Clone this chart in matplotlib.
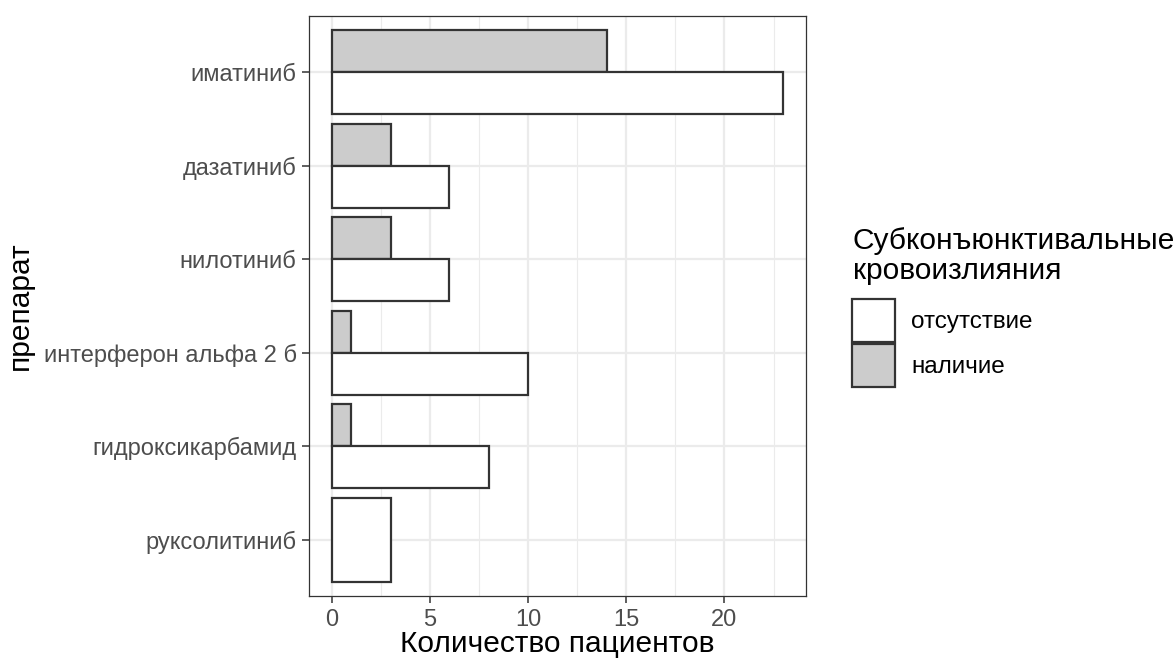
import matplotlib.pyplot as plt
from matplotlib.patches import Patch
import numpy as np

plt.rcParams['font.family'] = ['Liberation Sans', 'DejaVu Sans']

# Data
drugs = ["иматиниб", "дазатиниб", "нилотиниб", "интерферон альфа 2 б",
         "гидроксикарбамид", "руксолитиниб"]
absent = [23, 6, 6, 10, 8, 3]     # отсутствие
present = [14, 3, 3, 1, 1, 0]     # наличие
x_ticks = [0, 5, 10, 15, 20]

fill_absent = "white"
fill_present = "#CCCCCC"
edge = "#333333"

fig = plt.figure(figsize=(11.76, 6.62), dpi=100)
ax = fig.add_axes([309 / 1176, 1 - 596 / 662, (806 - 309) / 1176, (596 - 16) / 662])

ypos = np.arange(len(drugs))
full_w = 0.9
for y, a, p in zip(ypos, absent, present):
    if p > 0:
        ax.barh(y - full_w / 4, p, height=full_w / 2, color=fill_present,
                edgecolor=edge, linewidth=1.6, zorder=3)
        ax.barh(y + full_w / 4, a, height=full_w / 2, color=fill_absent,
                edgecolor=edge, linewidth=1.6, zorder=3)
    else:
        # only one group present -> bar takes the full dodge width
        ax.barh(y, a, height=full_w, color=fill_absent,
                edgecolor=edge, linewidth=1.6, zorder=3)

ax.set_xlim(-1.15, 24.15)
ax.set_ylim(len(drugs) - 1 + 0.6, -0.6)
ax.set_yticks(ypos)
ax.set_yticklabels(drugs)
ax.set_xticks(x_ticks)
ax.set_xticks([2.5, 7.5, 12.5, 17.5, 22.5], minor=True)

ax.grid(True, which='major', color='#EBEBEB', linewidth=1.6, zorder=0)
ax.grid(True, which='minor', axis='x', color='#EBEBEB', linewidth=0.8, zorder=0)
ax.set_axisbelow(True)

for s in ax.spines.values():
    s.set_color('#333333')
    s.set_linewidth(0.9)

ax.tick_params(axis='both', which='major', length=5, width=1.1, color='#333333',
               labelsize=17, labelcolor='#4D4D4D', pad=4)
ax.tick_params(axis='both', which='minor', length=0)

ax.set_xlabel("Количество пациентов", fontsize=21.5, labelpad=-0.5)
ax.set_ylabel("препарат", fontsize=21.5, labelpad=7)

# legend title as separate text, entries as a legend below it
fig.text(853 / 1176, 1 - 227 / 662, "Субконъюнктивальные\nкровоизлияния",
         fontsize=21.5, va='top', ha='left', linespacing=1.08)

handles = [Patch(facecolor=fill_absent, edgecolor=edge, linewidth=1.6, label="отсутствие"),
           Patch(facecolor=fill_present, edgecolor=edge, linewidth=1.6, label="наличие")]
leg = fig.legend(handles=handles, loc='upper left',
                 bbox_to_anchor=(852 / 1176, 1 - 299 / 662),
                 frameon=False, fontsize=17.5,
                 handlelength=1.77, handleheight=2.345, labelspacing=0.1,
                 handletextpad=0.66, borderaxespad=0, borderpad=0)

fig.savefig("out.png", dpi=100)
